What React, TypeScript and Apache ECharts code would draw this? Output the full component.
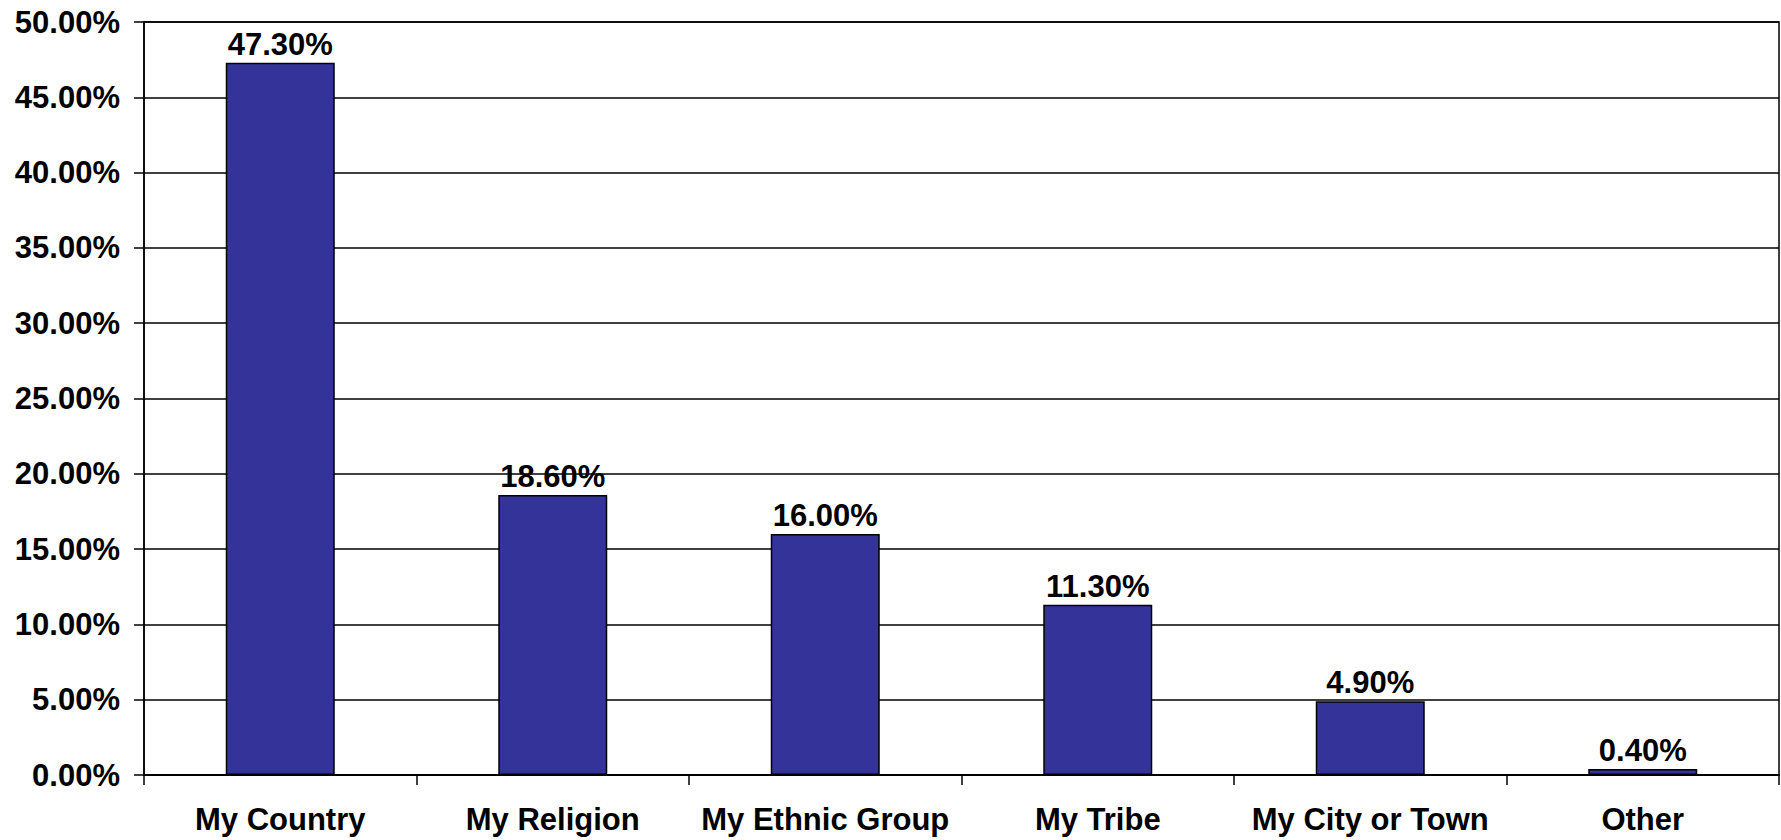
import React, { useEffect, useRef } from "react";
import * as echarts from "echarts";

const categories = ["My Country", "My Religion", "My Ethnic Group", "My Tribe", "My City or Town", "Other"];
const values = [47.3, 18.6, 16.0, 11.3, 4.9, 0.4];

export default function App() {
  const ref = useRef<HTMLDivElement>(null);
  useEffect(() => {
    if (!ref.current) return;
    const chart = echarts.init(ref.current, null, { renderer: "svg" });
    const font = "Liberation Sans, Arial, sans-serif";
    chart.setOption({
      animation: false,
      backgroundColor: "#fff",
      grid: {
        left: 144,
        right: 2,
        top: 22,
        bottom: 65,
        show: true,
        borderColor: "#000",
        borderWidth: 1.5,
      },
      xAxis: {
        type: "category",
        data: categories,
        axisLine: { show: true, lineStyle: { color: "#000", width: 2 } },
        axisTick: { show: true, interval: 0, length: 10, lineStyle: { color: "#000", width: 1.5 } },
        axisLabel: {
          interval: 0,
          hideOverlap: false,
          color: "#000",
          fontFamily: font,
          fontWeight: "bold",
          fontSize: 31,
          margin: 29,
        },
      },
      yAxis: {
        type: "value",
        min: 0,
        max: 50,
        interval: 5,
        axisLine: { show: true, lineStyle: { color: "#000", width: 1.5 } },
        axisTick: { show: true, length: 10, lineStyle: { color: "#000", width: 1.5 } },
        splitLine: { show: true, lineStyle: { color: "#000", width: 1.5 } },
        axisLabel: {
          color: "#000",
          fontFamily: font,
          fontWeight: "bold",
          fontSize: 31,
          margin: 24,
          formatter: (v: number) => v.toFixed(2) + "%",
        },
      },
      series: [
        {
          type: "bar",
          data: values,
          barWidth: "40%",
          itemStyle: { color: "#333399", borderColor: "#000", borderWidth: 1.5 },
          label: {
            show: true,
            position: "top",
            distance: 3,
            color: "#000",
            fontFamily: font,
            fontWeight: "bold",
            fontSize: 31,
            formatter: (p: any) => Number(p.value).toFixed(2) + "%",
          },
        },
      ],
    });
    return () => chart.dispose();
  }, []);
  return (
    <div
      ref={ref}
      style={{ position: "absolute", left: 0, top: 0, width: 1781, height: 840 }}
    />
  );
}
